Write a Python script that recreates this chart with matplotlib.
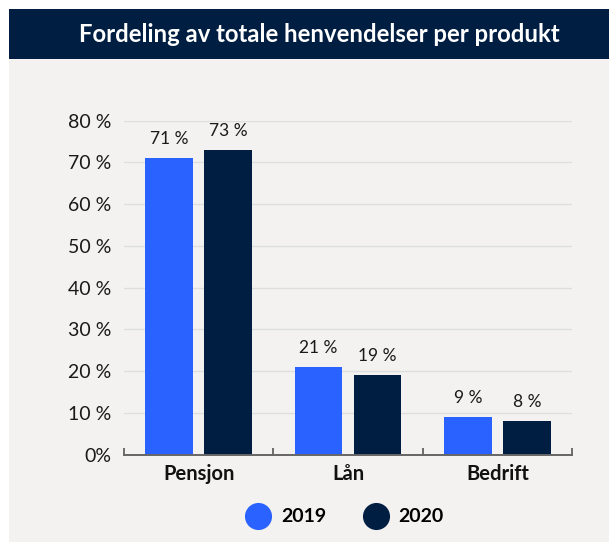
import numpy as np
import matplotlib as mpl
import matplotlib.pyplot as plt
from matplotlib.patches import Rectangle
from matplotlib.lines import Line2D

categories = ['Pensjon', 'Lån', 'Bedrift']
years = ['2019', '2020']
vals_2019 = [71, 21, 9]
vals_2020 = [73, 19, 8]
yticks = [0, 10, 20, 30, 40, 50, 60, 70, 80]
ytick_labels = ['0%', '10\u00a0%', '20\u00a0%', '30\u00a0%', '40\u00a0%',
                '50\u00a0%', '60\u00a0%', '70\u00a0%', '80\u00a0%']

blue = '#2962ff'
navy = '#001e42'
bg = '#f3f2f0'

plt.rcParams['font.family'] = ['Lato', 'DejaVu Sans']

W, H = 609, 542
fig = plt.figure(figsize=(W / 100, H / 100), dpi=100)
fig.patch.set_facecolor('white')

# background panel and title bar
fig.patches.append(Rectangle((9 / W, 0), 1 - 9 / W, (H - 59) / H,
                             transform=fig.transFigure, facecolor=bg,
                             edgecolor='none', zorder=-10))
fig.patches.append(Rectangle((9 / W, (H - 59) / H), 1 - 9 / W, 50 / H,
                             transform=fig.transFigure, facecolor=navy,
                             edgecolor='none', zorder=-10))
fig.text(319 / W, (H - 34) / H, 'Fordeling av totale henvendelser per produkt',
         color='white', fontsize=17.2, fontweight='bold', ha='center', va='center')

ax = fig.add_axes([124 / W, (H - 454.5) / H, 448 / W, (454.5 - 120.6) / H])
ax.set_facecolor('none')
ax.set_zorder(2)

x = np.arange(len(categories))
w = 0.32
off = 0.198
b1 = ax.bar(x - off, vals_2019, w, color=blue, zorder=3)
b2 = ax.bar(x + off, vals_2020, w, color=navy, zorder=3)

for bars, vals in [(b1, vals_2019), (b2, vals_2020)]:
    for r, v in zip(bars, vals):
        ax.annotate(f'{v}\u00a0%', (r.get_x() + r.get_width() / 2, v),
                    xytext=(0, 11), textcoords='offset pixels',
                    ha='center', va='bottom', fontsize=12.5, color='#1a1a1a',
                    annotation_clip=False)

ax.set_xlim(-0.5, 2.5)
ax.set_ylim(0, 80)
ax.set_yticks(yticks)
ax.set_yticklabels(ytick_labels)
ax.set_xticks(x)
ax.set_xticklabels(categories, fontweight='bold')
ax.set_xticks([-0.5, 0.5, 1.5, 2.5], minor=True)

ax.tick_params(axis='y', length=0, pad=9, labelsize=14, labelcolor='#1a1a1a')
ax.tick_params(axis='x', which='major', length=0, pad=7, labelsize=14.5, labelcolor='#111111')
ax.tick_params(axis='x', which='minor', direction='in', length=5, width=1.2, color='#555555')

ax.grid(axis='y', color='#dedede', linewidth=1, zorder=0)
for s in ['top', 'right', 'left']:
    ax.spines[s].set_visible(False)
ax.spines['bottom'].set_color('#666666')
ax.spines['bottom'].set_linewidth(1.4)
ax.spines['bottom'].set_zorder(4)

handles = [Line2D([], [], marker='o', linestyle='none', markersize=19.5,
                  markerfacecolor=c, markeredgecolor='none') for c in [blue, navy]]
fig.legend(handles, years, loc='center', bbox_to_anchor=(344 / W, (H - 517) / H),
           ncol=2, frameon=False, handlelength=1.4, handletextpad=0.45,
           columnspacing=1.85, prop={'weight': 'bold', 'size': 14})

fig.savefig('out.png', dpi=100)
